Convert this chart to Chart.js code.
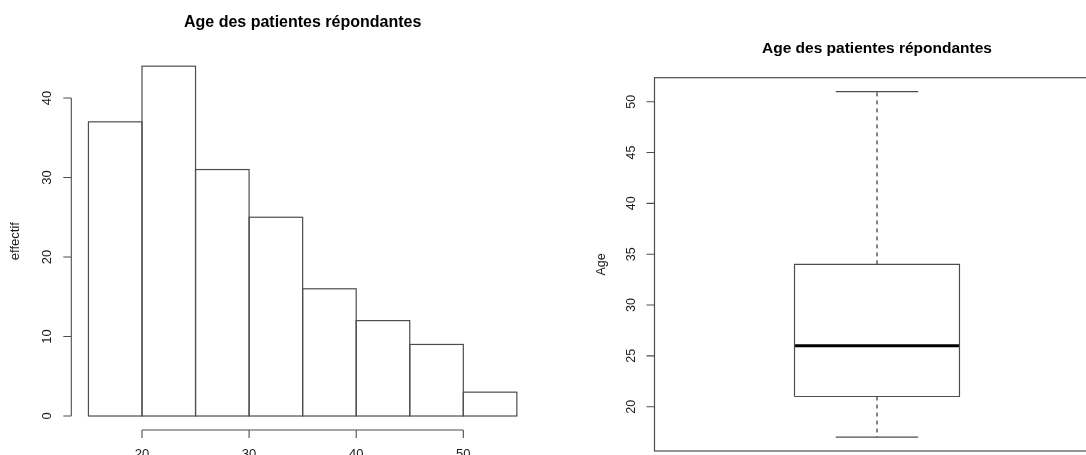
<!DOCTYPE html>
<html>
<head>
<meta charset="utf-8">
<script src="https://cdn.jsdelivr.net/npm/chart.js@4/dist/chart.umd.min.js"></script>
<style>
    html, body { margin: 0; padding: 0; background: #fff; overflow: hidden; width: 1086px; height: 455px; }
    #histDiv { position: absolute; left: 0; top: 0; width: 543px; height: 455px; }
    #boxDiv { position: absolute; left: 543px; top: 0; width: 560px; height: 455px; }
</style>
</head>
<body>
<div id="histDiv"><canvas id="histChart"></canvas></div>
<div id="boxDiv"><canvas id="boxChart"></canvas></div>
<script>
    //------------------------------------------Datos------------------------------------------------------------------
    const chartTitle = 'Age des patientes répondantes';
    const binEdges = [15, 20, 25, 30, 35, 40, 45, 50, 55];
    const counts = [37, 44, 31, 25, 16, 12, 9, 3];
    const histXTicks = [20, 30, 40, 50];
    const histYTicks = [0, 10, 20, 30, 40];
    const histYLabel = 'effectif';

    // min, q1, mediana, q3, max
    const ageStats = [17, 21, 26, 34, 51];
    const boxYTicks = [20, 25, 30, 35, 40, 45, 50];
    const boxYLabel = 'Age';

    const lineColor = '#4d4d4d';
    const textColor = '#1a1a1a';
    const fontFamily = '"Liberation Sans", Arial, Helvetica, sans-serif';

    //------------------------------------------Funciones------------------------------------------------------------------

    // rango de R: extiende un 4% a cada lado
    function rRange(lo, hi) {
        let d = (hi - lo) * 0.04;
        return [lo - d, hi + d];
    }

    function vText(ctx, text, x, y) {
        ctx.save();
        ctx.translate(x, y);
        ctx.rotate(-Math.PI / 2);
        ctx.textAlign = 'center';
        ctx.textBaseline = 'middle';
        ctx.fillText(text, 0, 0);
        ctx.restore();
    }

    function drawYAxis(chart, ticks, fontSize, labelOffset, title, titleOffset, drawLine) {
        let ctx = chart.ctx, a = chart.chartArea, ys = chart.scales.y;
        ctx.save();
        ctx.strokeStyle = lineColor;
        ctx.lineWidth = 1.1;
        ctx.beginPath();
        if (drawLine) {
            ctx.moveTo(a.left, ys.getPixelForValue(ticks[0]));
            ctx.lineTo(a.left, ys.getPixelForValue(ticks[ticks.length - 1]));
        }
        for (const v of ticks) {
            let p = ys.getPixelForValue(v);
            ctx.moveTo(a.left, p);
            ctx.lineTo(a.left - 8, p);
        }
        ctx.stroke();
        ctx.fillStyle = textColor;
        ctx.font = fontSize + 'px ' + fontFamily;
        for (const v of ticks) {
            vText(ctx, String(v), a.left - labelOffset, ys.getPixelForValue(v));
        }
        vText(ctx, title, a.left - titleOffset, (a.top + a.bottom) / 2);
        ctx.restore();
    }

    const histAxes = {
        id: 'histAxes',
        afterDatasetsDraw(chart) {
            let ctx = chart.ctx;
            ctx.save();
            ctx.strokeStyle = lineColor;
            ctx.lineWidth = 1.2;
            for (const el of chart.getDatasetMeta(0).data) {
                let p = el.getProps(['x', 'y', 'base', 'width'], true);
                ctx.strokeRect(p.x - p.width / 2, p.y, p.width, p.base - p.y);
            }
            ctx.restore();
        },
        afterDraw(chart) {
            let ctx = chart.ctx, a = chart.chartArea, xs = chart.scales.x;
            drawYAxis(chart, histYTicks, 13, 24, histYLabel, 56, true);
            ctx.save();
            ctx.strokeStyle = lineColor;
            ctx.lineWidth = 1.1;
            ctx.beginPath();
            ctx.moveTo(xs.getPixelForValue(histXTicks[0]), a.bottom);
            ctx.lineTo(xs.getPixelForValue(histXTicks[histXTicks.length - 1]), a.bottom);
            for (const v of histXTicks) {
                let p = xs.getPixelForValue(v);
                ctx.moveTo(p, a.bottom);
                ctx.lineTo(p, a.bottom + 8);
            }
            ctx.stroke();
            ctx.fillStyle = textColor;
            ctx.font = '13px ' + fontFamily;
            ctx.textAlign = 'center';
            ctx.textBaseline = 'alphabetic';
            for (const v of histXTicks) {
                ctx.fillText(String(v), xs.getPixelForValue(v), a.bottom + 28);
            }
            ctx.restore();
        }
    };

    const boxAxes = {
        id: 'boxAxes',
        afterDraw(chart) {
            let ctx = chart.ctx, a = chart.chartArea;
            ctx.save();
            ctx.strokeStyle = lineColor;
            ctx.lineWidth = 1.2;
            ctx.strokeRect(a.left, a.top, a.right - a.left, a.bottom - a.top);
            ctx.restore();
            drawYAxis(chart, boxYTicks, 12.5, 22.5, boxYLabel, 53, false);
        }
    };

    function seg(points, width, color, dash) {
        return {
            data: points,
            showLine: true,
            borderColor: color,
            borderWidth: width,
            borderDash: dash || [],
            pointRadius: 0,
            fill: false,
            tension: 0
        };
    }

    //------------------------------------------Histograma------------------------------------------------------------------

    let histX = rRange(binEdges[0], binEdges[binEdges.length - 1]);
    let histY = rRange(0, Math.max(...counts));
    let histData = counts.map((c, i) => ({ x: (binEdges[i] + binEdges[i + 1]) / 2, y: c }));

    new Chart(document.getElementById('histChart'), {
        type: 'bar',
        data: {
            datasets: [{
                data: histData,
                backgroundColor: '#fff',
                borderWidth: 0,
                barPercentage: 1,
                categoryPercentage: 1
            }]
        },
        options: {
            responsive: true,
            maintainAspectRatio: false,
            animation: false,
            layout: { padding: { left: 71.3, right: 9, top: 0, bottom: 25 } },
            scales: {
                x: { type: 'linear', min: histX[0], max: histX[1], offset: false, display: false },
                y: { min: histY[0], max: histY[1], display: false }
            },
            plugins: {
                legend: { display: false },
                tooltip: { enabled: false },
                title: {
                    display: true,
                    text: chartTitle,
                    color: '#000',
                    font: { family: fontFamily, size: 16, weight: 'bold' },
                    padding: { top: 13.2, bottom: 19.8 }
                }
            }
        },
        plugins: [histAxes]
    });

    //------------------------------------------Boxplot------------------------------------------------------------------

    let boxY = rRange(ageStats[0], ageStats[4]);
    const boxCenter = 1, boxWex = 0.8, stapleWex = 0.5;
    let bl = boxCenter - boxWex / 2, br = boxCenter + boxWex / 2;
    let sl = boxCenter - boxWex * stapleWex / 2, sr = boxCenter + boxWex * stapleWex / 2;
    let [mn, q1, md, q3, mx] = ageStats;

    new Chart(document.getElementById('boxChart'), {
        type: 'scatter',
        data: {
            datasets: [
                seg([{ x: bl, y: q1 }, { x: br, y: q1 }, { x: br, y: q3 }, { x: bl, y: q3 }, { x: bl, y: q1 }], 1.2, lineColor),
                seg([{ x: boxCenter, y: q3 }, { x: boxCenter, y: mx }], 1.2, '#333', [4, 4]),
                seg([{ x: boxCenter, y: q1 }, { x: boxCenter, y: mn }], 1.2, '#333', [4, 4]),
                seg([{ x: sl, y: mx }, { x: sr, y: mx }], 1.2, lineColor),
                seg([{ x: sl, y: mn }, { x: sr, y: mn }], 1.2, lineColor),
                seg([{ x: bl, y: md }, { x: br, y: md }], 3, '#000')
            ]
        },
        options: {
            responsive: true,
            maintainAspectRatio: false,
            animation: false,
            layout: { padding: { left: 111.5, right: 3.5, top: 0, bottom: 4 } },
            scales: {
                x: { type: 'linear', min: boxCenter - 1.079, max: boxCenter + 1.079, display: false },
                y: { min: boxY[0], max: boxY[1], display: false }
            },
            plugins: {
                legend: { display: false },
                tooltip: { enabled: false },
                title: {
                    display: true,
                    text: chartTitle,
                    color: '#000',
                    font: { family: fontFamily, size: 15.5, weight: 'bold' },
                    padding: { top: 39.5, bottom: 19.6 }
                }
            }
        },
        plugins: [boxAxes]
    });
</script>
</body>
</html>
